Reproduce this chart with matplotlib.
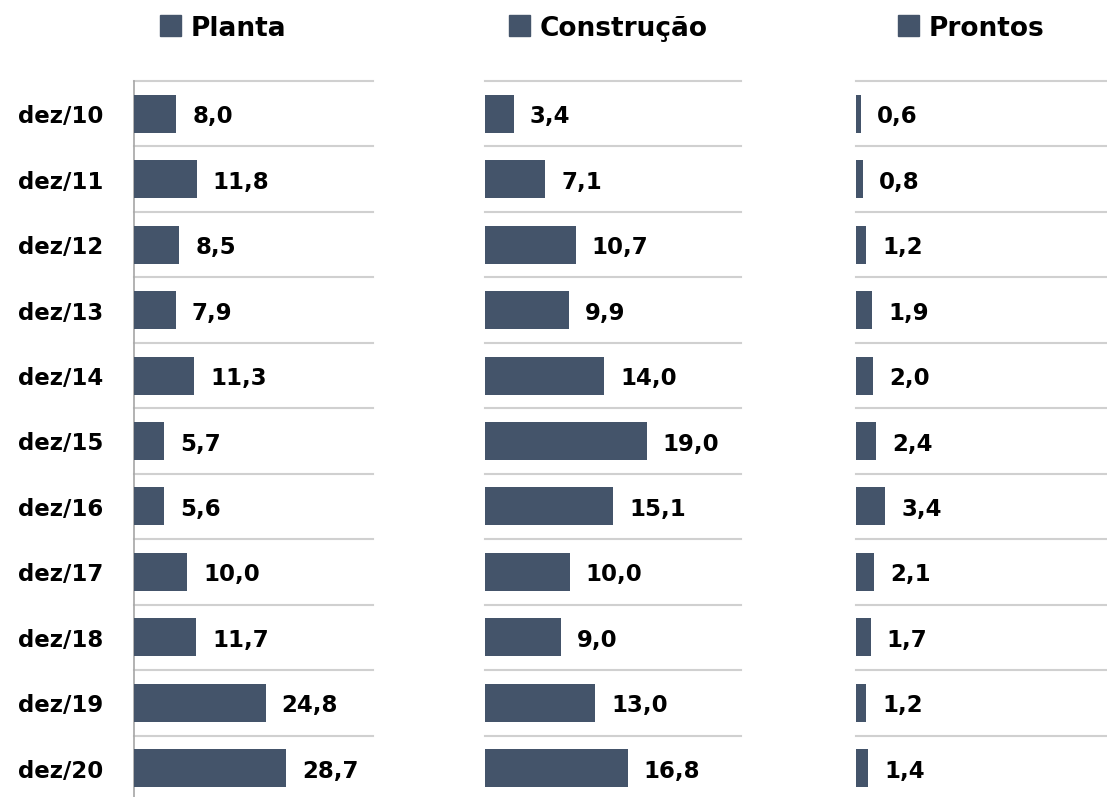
import matplotlib
matplotlib.use("Agg")
import matplotlib.pyplot as plt
from matplotlib.patches import Rectangle

plt.rcParams['font.family'] = ['DejaVu Sans']
plt.rcParams['font.weight'] = 'bold'

categories = ["dez/10", "dez/11", "dez/12", "dez/13", "dez/14", "dez/15",
              "dez/16", "dez/17", "dez/18", "dez/19", "dez/20"]
planta = [8.0, 11.8, 8.5, 7.9, 11.3, 5.7, 5.6, 10.0, 11.7, 24.8, 28.7]
construcao = [3.4, 7.1, 10.7, 9.9, 14.0, 19.0, 15.1, 10.0, 9.0, 13.0, 16.8]
prontos = [0.6, 0.8, 1.2, 1.9, 2.0, 2.4, 3.4, 2.1, 1.7, 1.2, 1.4]
series_names = ["Planta", "Construção", "Prontos"]

BAR = "#44546A"
GRID = "#D0D0D0"
W, H = 1107, 797
PT = 72 / 100  # points per pixel

fig = plt.figure(figsize=(W / 100, H / 100), dpi=100)

panels = [
    (planta, 134, 239, 45, 160),
    (construcao, 484.5, 256, 30, 508.5),
    (prontos, 856, 256, 30, 897.5),
]
top_px, bot_px = 81, 801
LBL = 16.5

n = len(categories)
for i, ((vals, left, width, xmax, leg_x), name) in enumerate(zip(panels, series_names)):
    ax = fig.add_axes([left / W, (H - bot_px) / H, width / W, (bot_px - top_px) / H])
    ypos = list(range(n))
    ax.barh(ypos, vals, height=0.58, color=BAR, zorder=3)
    ax.set_ylim(n - 0.5, -0.5)
    ax.set_xlim(0, xmax)
    for b in range(n + 1):
        ax.axhline(b - 0.5, color=GRID, lw=1.5, zorder=1, clip_on=False)
    for y, v in zip(ypos, vals):
        ax.annotate(f"{v:.1f}".replace(".", ","), xy=(v, y),
                    xytext=(16 * PT, -9.5 * PT),
                    textcoords="offset points", ha="left", va="baseline",
                    fontsize=LBL, fontweight="bold", color="black")
    ax.set_xticks([])
    ax.set_yticks([])
    for s in ["top", "right", "bottom"]:
        ax.spines[s].set_visible(False)
    if i == 0:
        ax.spines["left"].set_color("#A6A6A6")
        ax.spines["left"].set_linewidth(1.2)
        for y, c in zip(ypos, categories):
            ax.annotate(c, xy=(0, y), xycoords=("axes fraction", "data"),
                        xytext=(-31 * PT, -9.5 * PT), textcoords="offset points",
                        ha="right", va="baseline", fontsize=LBL,
                        fontweight="bold", color="black")
    else:
        ax.spines["left"].set_visible(False)
    ax.patch.set_alpha(0)
    # legend-style title
    fig.patches.append(Rectangle((leg_x / W, (H - 36) / H), 21 / W, 21 / H,
                                 transform=fig.transFigure, color=BAR))
    fig.text((leg_x + 31) / W, (H - 36) / H, name, fontsize=19, fontweight="bold",
             ha="left", va="baseline", color="black")

fig.savefig("out.png", dpi=100)
